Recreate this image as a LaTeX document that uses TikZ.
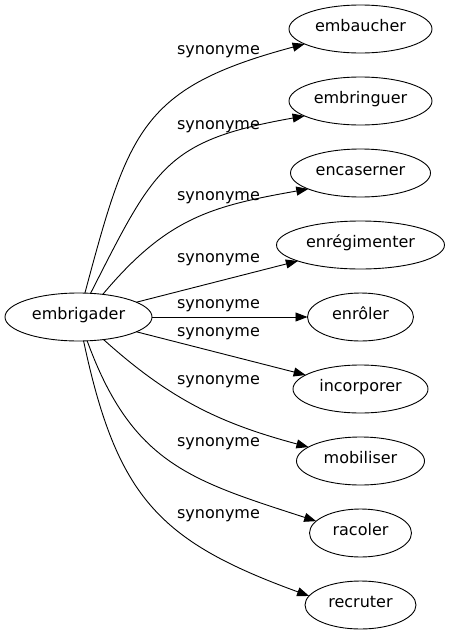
\documentclass[tikz,border=0pt]{standalone}
\usepackage{fontspec}
\setmainfont{DejaVu Sans}
\usetikzlibrary{positioning,shapes.geometric,arrows.meta}

\begin{document}
\begin{tikzpicture}[x=1pt,y=1pt]
\tikzstyle{main}=[ellipse, draw=black, line width=0.9pt, minimum height=48pt, inner sep=0pt, outer sep=0pt, text height=1.5ex, text depth=0.5ex, font=\fontsize{16}{19}\selectfont, node distance=24pt]
\tikzstyle{connect}=[-{Triangle[length=12pt,width=9pt]}, line width=0.9pt]
\tikzstyle{rel}=[anchor=mid, inner sep=0pt, font=\fontsize{16}{19}\selectfont]
  \useasboundingbox (0,0) rectangle (449,-635);
  \node[main, minimum width=147pt] (embrigader) at (78.5,-317) {embrigader};
  \node[main, minimum width=143pt] (embaucher) at (360.5,-29) {embaucher};
  \node[main, minimum width=143pt] (embringuer) [below=of embaucher] {embringuer};
  \node[main, minimum width=140pt] (encaserner) [below=of embringuer] {encaserner};
  \node[main, minimum width=168pt] (enregimenter) [below=of encaserner] {enrégimenter};
  \node[main, minimum width=106pt] (enroler) [below=of enregimenter] {enrôler};
  \node[main, minimum width=135pt] (incorporer) [below=of enroler] {incorporer};
  \node[main, minimum width=128pt] (mobiliser) [below=of incorporer] {mobiliser};
  \node[main, minimum width=102pt] (racoler) [below=of mobiliser] {racoler};
  \node[main, minimum width=111pt] (recruter) [below=of racoler] {recruter};
  \path (embrigader) edge [connect, out=75, in=195, looseness=1.3] (embaucher)
        (embrigader) edge [connect, out=63, in=190, looseness=1.3] (embringuer.195)
        (embrigader.43) edge [connect, out=50, in=190, looseness=1.1] (encaserner.197)
        (embrigader) edge [connect] (enregimenter)
        (embrigader) edge [connect] (enroler)
        (embrigader) edge [connect] (incorporer)
        (embrigader) edge [connect, out=-42, in=165] (mobiliser)
        (embrigader) edge [connect, out=-70, in=162, looseness=1.15] (racoler.165)
        (embrigader) edge [connect, out=-78, in=160, looseness=1.2] (recruter.170);
  \node[rel] (syn1) at (218.5,-52) {synonyme};
  \node[rel] (syn2) at (218.5,-127) {synonyme};
  \node[rel] (syn3) at (218.5,-198) {synonyme};
  \node[rel] (syn4) at (218.5,-260) {synonyme};
  \node[rel] (syn5) at (218.5,-306) {synonyme};
  \node[rel] (syn6) at (218.5,-334) {synonyme};
  \node[rel] (syn7) at (218.5,-382) {synonyme};
  \node[rel] (syn8) at (218.5,-444) {synonyme};
  \node[rel] (syn9) at (218.5,-516) {synonyme};
\end{tikzpicture}
\end{document}
